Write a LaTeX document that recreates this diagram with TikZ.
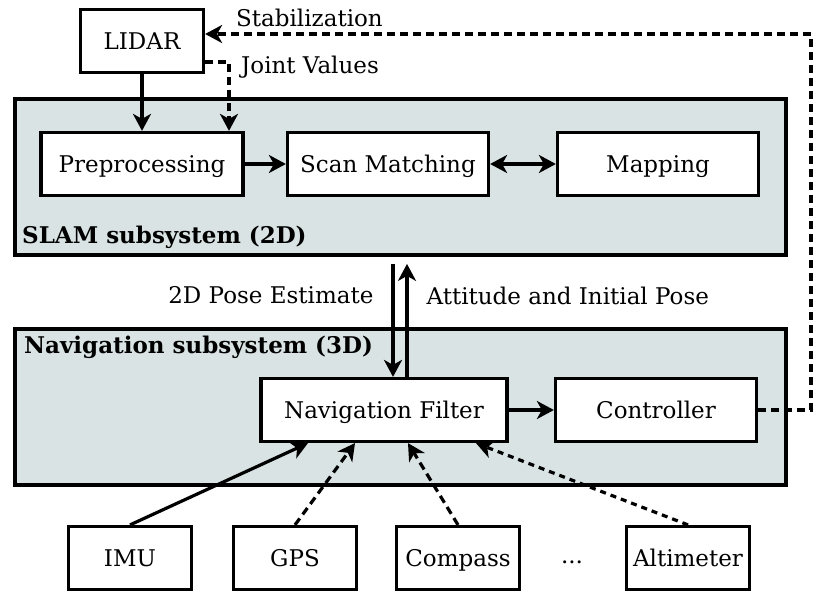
\documentclass[tikz,border=0pt]{standalone}
\usepackage{fontspec}
\setmainfont{DejaVu Serif}
\usetikzlibrary{arrows.meta}
\definecolor{subfill}{RGB}{217,227,227}
\tikzset{
	tip/.tip={Stealth[length=17pt,width=18pt,inset=5pt]},
	blk/.style={draw,line width=3.2pt,fill=white,inner sep=0pt,minimum height=63pt,text height=20pt,text depth=3pt,font=\fontsize{23}{27}\selectfont},
	subsys/.style={draw,line width=3.2pt,fill=subfill,inner sep=0pt,minimum width=771pt,minimum height=156pt},
	ttl/.style={font=\bfseries\fontsize{23}{27}\selectfont,inner sep=0pt},
	lbl/.style={font=\fontsize{23}{27}\selectfont,inner sep=0pt},
	arr/.style={line width=3.2pt,-tip},
	dsh/.style={arr,dash pattern=on 8pt off 5pt},
}
\begin{document}
	\begin{tikzpicture}[x=1pt,y=-1pt]
		\useasboundingbox (0,0) rectangle (826,604);
		\node[subsys] (slam) at (400.5,177) {};
		\node[subsys] (nav) at (400.5,407) {};
		\node[ttl,anchor=south west] (slamttl) at (22,249) {SLAM subsystem (2D)};
		\node[ttl,anchor=north west] (navttl) at (24,336) {Navigation subsystem (3D)};
		\node[blk,minimum width=123pt] (lidar) at (142,41) {LIDAR};
		\node[blk,minimum width=202pt] (pre) at (142,164) {Preprocessing};
		\node[blk,minimum width=201pt] (scan) at (388,164) {Scan Matching};
		\node[blk,minimum width=201pt] (map) at (658,164) {Mapping};
		\node[blk,minimum width=246pt] (nf) at (384,410) {Navigation Filter};
		\node[blk,minimum width=201pt] (ctrl) at (656,410) {Controller};
		\node[blk,minimum width=123pt] (imu) at (130,558) {IMU};
		\node[blk,minimum width=123pt] (gps) at (295,558) {GPS};
		\node[blk,minimum width=123pt] (comp) at (458,558) {Compass};
		\node[lbl] (dots) at (572,562) {...};
		\node[blk,minimum width=123pt] (alt) at (688,558) {Altimeter};
		\node[lbl,anchor=west] (jv) at (241,67) {Joint Values};
		\node[lbl,anchor=west] (stl) at (236,18) {Stabilization};
		\coordinate (stab) at (811,34);
		\draw[arr] (lidar) -- (pre);
		\draw[dsh] ([yshift=-21pt]lidar.east) -| ([xshift=87pt]pre.north);
		\draw[dsh] (ctrl.east) -| (stab) -- (lidar.east |- stab);
		\draw[arr] (pre) -- (scan);
		\draw[arr,tip-tip] (scan) -- (map);
		\draw[arr] ([xshift=9pt]nf.north) ++(0,-113) -- ([xshift=9pt]nf.north) node[lbl,pos=0.28,left=18pt] (pose) {2D Pose Estimate};
		\draw[arr] ([xshift=23pt]nf.north) -- ++(0,-113) node[lbl,pos=0.72,right=18pt] (att) {Attitude and Initial Pose};
		\draw[arr] (nf) -- (ctrl);
		\draw[arr] (imu.north) -- ([xshift=-76pt]nf.south);
		\draw[dsh] (gps.north) -- ([xshift=-29pt]nf.south);
		\draw[dsh] (comp.north) -- ([xshift=24pt]nf.south);
		\draw[dsh,dash pattern=on 6pt off 5pt] (alt.north) -- ([xshift=92pt]nf.south);
	\end{tikzpicture}
\end{document}
